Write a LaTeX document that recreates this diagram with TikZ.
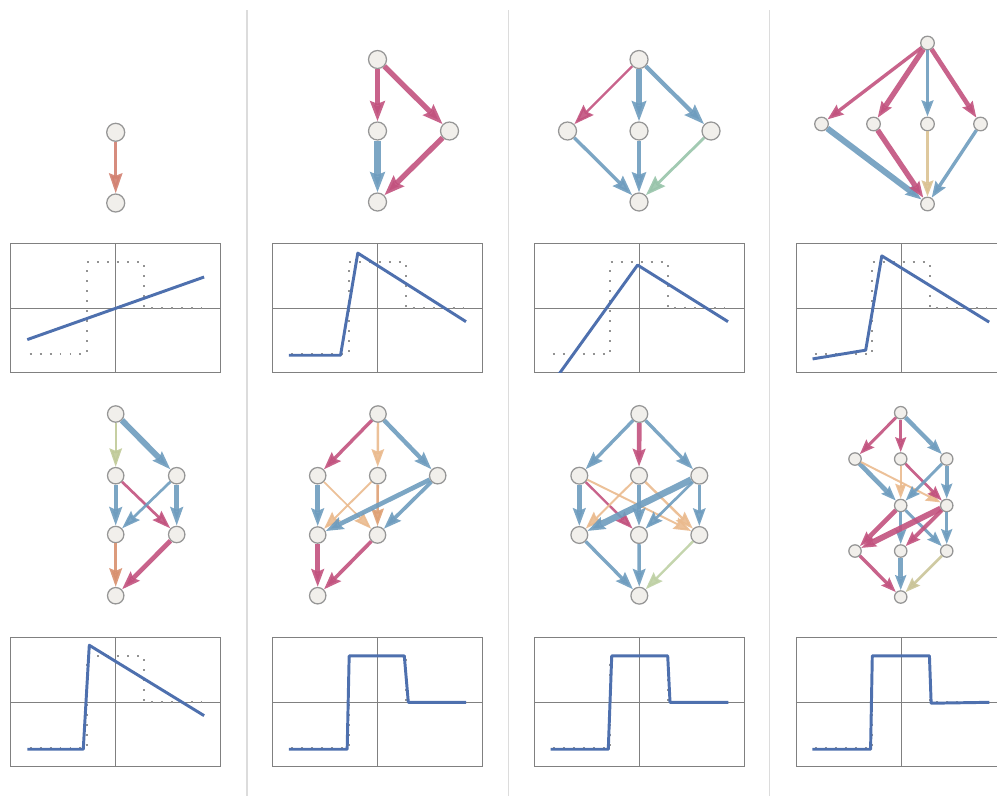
\documentclass[tikz,border=0pt]{standalone}
\usetikzlibrary{arrows.meta}

\definecolor{rosec}{RGB}{194,82,126}
\definecolor{steelc}{RGB}{110,156,190}
\definecolor{salmonc}{RGB}{210,128,112}
\definecolor{peachc}{RGB}{234,186,142}
\definecolor{amberc}{RGB}{222,160,116}
\definecolor{sagec}{RGB}{152,196,170}
\definecolor{olivec}{RGB}{192,202,152}
\definecolor{tanc}{RGB}{218,194,146}
\definecolor{khakic}{RGB}{202,196,152}
\definecolor{mintc}{RGB}{190,208,164}
\definecolor{brickc}{RGB}{216,144,110}
\definecolor{nodefill}{RGB}{241,239,235}
\definecolor{nodeline}{RGB}{150,150,150}
\definecolor{fitc}{RGB}{78,112,174}
\definecolor{framec}{RGB}{128,128,128}
\definecolor{sepc}{RGB}{220,220,220}

\begin{document}
\begin{tikzpicture}[x=0.025cm, y=-0.025cm,
    vtx/.style={circle, draw=nodeline, fill=nodefill, line width=0.9pt, inner sep=0pt, minimum size=0.45cm},
    ln/.style={->, line width=#1, opacity=0.9},
    box/.style={draw=framec, line width=0.6pt},
    fit/.style={draw=fitc, line width=2.1pt, line join=round},
    target/.style={draw=gray!85, line width=1.4pt, dash pattern=on 1.4pt off 5.7pt},
    plotat/.style 2 args={shift={(#1,#2)}, x=0.7175cm, y=1.15cm}]
    % 1. Khung hình và các đường phân cách cột
    \clip (0,0) rectangle (997,796);
    \foreach \sx in {246.7, 508.5, 769.5}
        \draw[sepc, line width=1.4pt] (\sx,10) -- (\sx,796);

    % 2. Khung, trục và hàm mục tiêu (chấm) của 8 đồ thị
    \foreach \px/\py in {115.7/308.3, 377.3/308.3, 639/308.3, 901/308.3,
                         115.7/702.3, 377.3/702.3, 639/702.3, 901/702.3} {
        \begin{scope}[plotat={\px}{\py}]
            \draw[box] (-3.66,-1.40) rectangle (3.66,1.42);
            \draw[box] (-3.66,0) -- (3.66,0) (0,-1.40) -- (0,1.42);
            \draw[target] (-3,-1) -- (-1,-1) -- (-1,1) -- (1,1) -- (1,0) -- (3,0);
        \end{scope}
    }

    % 3. Đường xấp xỉ (màu xanh)
    \begin{scope}[plotat={115.7}{308.3}]
        \draw[fit] (-3.08,-0.68) -- (3.08,0.68);
    \end{scope}
    \begin{scope}[plotat={377.3}{308.3}]
        \draw[fit] (-3.08,-1.02) -- (-1.28,-1.02) -- (-0.68,1.20) -- (3.09,-0.29);
    \end{scope}
    \begin{scope}[plotat={639}{308.3}]
        \clip (-3.66,-1.40) rectangle (3.66,1.42);
        \draw[fit] (-3.10,-1.70) -- (-0.05,0.94) -- (3.10,-0.29);
    \end{scope}
    \begin{scope}[plotat={901}{308.3}]
        \draw[fit] (-3.08,-1.10) -- (-1.23,-0.91) -- (-0.67,1.14) -- (3.07,-0.30);
    \end{scope}
    \begin{scope}[plotat={115.7}{702.3}]
        \draw[fit] (-3.08,-1.02) -- (-1.13,-1.02) -- (-0.92,1.24) -- (3.08,-0.29);
    \end{scope}
    \begin{scope}[plotat={377.3}{702.3}]
        \draw[fit] (-3.08,-1.02) -- (-1.05,-1.02) -- (-0.98,1.01) -- (0.94,1.01) -- (1.08,0) -- (3.09,0);
    \end{scope}
    \begin{scope}[plotat={639}{702.3}]
        \draw[fit] (-3.08,-1.02) -- (-1.07,-1.02) -- (-0.95,1.01) -- (1.00,1.01) -- (1.08,0) -- (3.11,0);
    \end{scope}
    \begin{scope}[plotat={901}{702.3}]
        \draw[fit] (-3.09,-1.02) -- (-1.06,-1.02) -- (-1.00,1.01) -- (0.99,1.01) -- (1.05,-0.02) -- (3.08,0);
    \end{scope}

    % 4. Mạng cột 1 (hàng trên)
    \begin{scope}[>={Stealth[length=0.5cm, width=0.33cm, inset=0.06cm]}]
        \node[vtx] (a0) at (115.7,132.3) {};
        \node[vtx] (a1) at (115.7,203) {};
        \draw[ln=2.1pt, salmonc] (a0) -- (a1);
    \end{scope}

    % 5. Mạng cột 2 (hàng trên)
    \begin{scope}[>={Stealth[length=0.5cm, width=0.36cm, inset=0.06cm]}]
        \node[vtx] (b0) at (377.5,59.5) {};
        \node[vtx] (b1) at (377.5,131) {};
        \node[vtx] (b2) at (449.5,131) {};
        \node[vtx] (b3) at (377.5,202) {};
        \draw[ln=3.2pt, rosec] (b0) -- (b1);
        \draw[ln=3.8pt, rosec] (b0) -- (b2);
        \draw[ln=4.3pt, steelc] (b1) -- (b3);
        \draw[ln=3.8pt, rosec] (b2) -- (b3);
    \end{scope}

    % 6. Mạng cột 3 (hàng trên)
    \begin{scope}[>={Stealth[length=0.5cm, width=0.35cm, inset=0.06cm]}]
        \node[vtx] (c0) at (639,59.5) {};
        \node[vtx] (c1) at (567.5,131) {};
        \node[vtx] (c2) at (639,131) {};
        \node[vtx] (c3) at (711,131) {};
        \node[vtx] (c4) at (639,202) {};
        \draw[ln=1.7pt, rosec] (c0) -- (c1);
        \draw[ln=4.2pt, steelc] (c0) -- (c2);
        \draw[ln=3.0pt, steelc] (c0) -- (c3);
        \draw[ln=2.4pt, steelc] (c1) -- (c4);
        \draw[ln=2.4pt, steelc] (c2) -- (c4);
        \draw[ln=2.0pt, sagec] (c3) -- (c4);
    \end{scope}

    % 7. Mạng cột 4 (hàng trên)
    \begin{scope}[>={Stealth[length=0.4cm, width=0.29cm, inset=0.05cm]}, vtx/.append style={minimum size=0.34cm}]
        \node[vtx] (d0) at (927.5,43) {};
        \node[vtx] (d1) at (821.5,124) {};
        \node[vtx] (d2) at (873.5,124) {};
        \node[vtx] (d3) at (927.5,124) {};
        \node[vtx] (d4) at (980.5,124) {};
        \node[vtx] (d5) at (927.5,204) {};
        \draw[ln=2.4pt, rosec] (d0) -- (d1);
        \draw[ln=3.8pt, rosec] (d0) -- (d2);
        \draw[ln=2.4pt, steelc] (d0) -- (d3);
        \draw[ln=3.3pt, rosec] (d0) -- (d4);
        \draw[ln=4.3pt, steelc] (d1) -- (d5);
        \draw[ln=3.8pt, rosec] (d2) -- (d5);
        \draw[ln=1.9pt, tanc] (d3) -- (d5);
        \draw[ln=2.4pt, steelc] (d4) -- (d5);
    \end{scope}

    % 8. Mạng cột 1 (hàng dưới)
    \begin{scope}[>={Stealth[length=0.46cm, width=0.31cm, inset=0.06cm]}, vtx/.append style={minimum size=0.41cm}]
        \node[vtx] (e0) at (115.7,414) {};
        \node[vtx] (e1) at (115.7,475.7) {};
        \node[vtx] (e2) at (176.7,475.7) {};
        \node[vtx] (e3) at (115.7,534.5) {};
        \node[vtx] (e4) at (176.7,534.5) {};
        \node[vtx] (e5) at (115.7,595.7) {};
        \draw[ln=1.7pt, olivec] (e0) -- (e1);
        \draw[ln=4.2pt, steelc] (e0) -- (e2);
        \draw[ln=2.8pt, steelc] (e1) -- (e3);
        \draw[ln=1.9pt, rosec] (e1) -- (e4);
        \draw[ln=1.9pt, steelc] (e2) -- (e3);
        \draw[ln=3.3pt, steelc] (e2) -- (e4);
        \draw[ln=2.4pt, brickc] (e3) -- (e5);
        \draw[ln=3.3pt, rosec] (e4) -- (e5);
    \end{scope}

    % 9. Mạng cột 2 (hàng dưới)
    \begin{scope}[>={Stealth[length=0.44cm, width=0.31cm, inset=0.06cm]}, vtx/.append style={minimum size=0.41cm}]
        \node[vtx] (f0) at (378,414) {};
        \node[vtx] (f1) at (317.7,475.7) {};
        \node[vtx] (f2) at (377.7,475.7) {};
        \node[vtx] (f3) at (437.7,475.7) {};
        \node[vtx] (f4) at (317.7,535) {};
        \node[vtx] (f5) at (377.5,535) {};
        \node[vtx] (f6) at (317.7,595.7) {};
        \draw[ln=2.4pt, rosec] (f0) -- (f1);
        \draw[ln=1.7pt, peachc] (f0) -- (f2);
        \draw[ln=3.1pt, steelc] (f0) -- (f3);
        \draw[ln=3.3pt, steelc] (f1) -- (f4);
        \draw[ln=1.2pt, peachc] (f1) -- (f5);
        \draw[ln=1.4pt, peachc] (f2) -- (f4);
        \draw[ln=1.9pt, amberc] (f2) -- (f5);
        \draw[ln=3.3pt, steelc] (f3) -- (f4);
        \draw[ln=2.6pt, steelc] (f3) -- (f5);
        \draw[ln=3.3pt, rosec] (f4) -- (f6);
        \draw[ln=2.6pt, rosec] (f5) -- (f6);
    \end{scope}

    % 10. Mạng cột 3 (hàng dưới)
    \begin{scope}[>={Stealth[length=0.44cm, width=0.31cm, inset=0.06cm]}, vtx/.append style={minimum size=0.42cm}]
        \node[vtx] (g0) at (639.3,414) {};
        \node[vtx] (g1) at (579.3,475.7) {};
        \node[vtx] (g2) at (639,475.7) {};
        \node[vtx] (g3) at (699.3,475.7) {};
        \node[vtx] (g4) at (579.3,535) {};
        \node[vtx] (g5) at (639,535) {};
        \node[vtx] (g6) at (699.3,535) {};
        \node[vtx] (g7) at (639.3,595.7) {};
        \draw[ln=2.4pt, steelc] (g0) -- (g1);
        \draw[ln=3.3pt, rosec] (g0) -- (g2);
        \draw[ln=2.4pt, steelc] (g0) -- (g3);
        \draw[ln=3.3pt, steelc] (g1) -- (g4);
        \draw[ln=1.7pt, rosec] (g1) -- (g5);
        \draw[ln=1.4pt, peachc] (g1) -- (g6);
        \draw[ln=1.4pt, peachc] (g2) -- (g4);
        \draw[ln=3.3pt, steelc] (g2) -- (g5);
        \draw[ln=1.7pt, peachc] (g2) -- (g6);
        \draw[ln=4.7pt, steelc] (g3) -- (g4);
        \draw[ln=1.9pt, steelc] (g3) -- (g5);
        \draw[ln=1.9pt, steelc] (g3) -- (g6);
        \draw[ln=2.4pt, steelc] (g4) -- (g7);
        \draw[ln=2.4pt, steelc] (g5) -- (g7);
        \draw[ln=1.7pt, mintc] (g6) -- (g7);
    \end{scope}

    % 11. Mạng cột 4 (hàng dưới)
    \begin{scope}[>={Stealth[length=0.37cm, width=0.27cm, inset=0.05cm]}, vtx/.append style={minimum size=0.31cm}]
        \node[vtx] (h0) at (900.7,412.7) {};
        \node[vtx] (h1) at (855,459) {};
        \node[vtx] (h2) at (900.7,459) {};
        \node[vtx] (h3) at (946.7,459) {};
        \node[vtx] (h4) at (900.7,505.5) {};
        \node[vtx] (h5) at (946.7,505.5) {};
        \node[vtx] (h6) at (855,551) {};
        \node[vtx] (h7) at (900.7,551) {};
        \node[vtx] (h8) at (946.7,551) {};
        \node[vtx] (h9) at (900.7,597) {};
        \draw[ln=2.1pt, rosec] (h0) -- (h1);
        \draw[ln=1.9pt, rosec] (h0) -- (h2);
        \draw[ln=3.1pt, steelc] (h0) -- (h3);
        \draw[ln=3.3pt, steelc] (h1) -- (h4);
        \draw[ln=1.4pt, peachc] (h1) -- (h5);
        \draw[ln=1.7pt, peachc] (h2) -- (h4);
        \draw[ln=1.9pt, rosec] (h2) -- (h5);
        \draw[ln=2.1pt, steelc] (h3) -- (h4);
        \draw[ln=2.8pt, steelc] (h3) -- (h5);
        \draw[ln=3.3pt, rosec] (h4) -- (h6);
        \draw[ln=2.1pt, steelc] (h4) -- (h7);
        \draw[ln=2.1pt, steelc] (h4) -- (h8);
        \draw[ln=4.2pt, rosec] (h5) -- (h6);
        \draw[ln=2.8pt, rosec] (h5) -- (h7);
        \draw[ln=2.4pt, steelc] (h5) -- (h8);
        \draw[ln=2.4pt, rosec] (h6) -- (h9);
        \draw[ln=3.3pt, steelc] (h7) -- (h9);
        \draw[ln=1.9pt, khakic] (h8) -- (h9);
    \end{scope}
\end{tikzpicture}
\end{document}
